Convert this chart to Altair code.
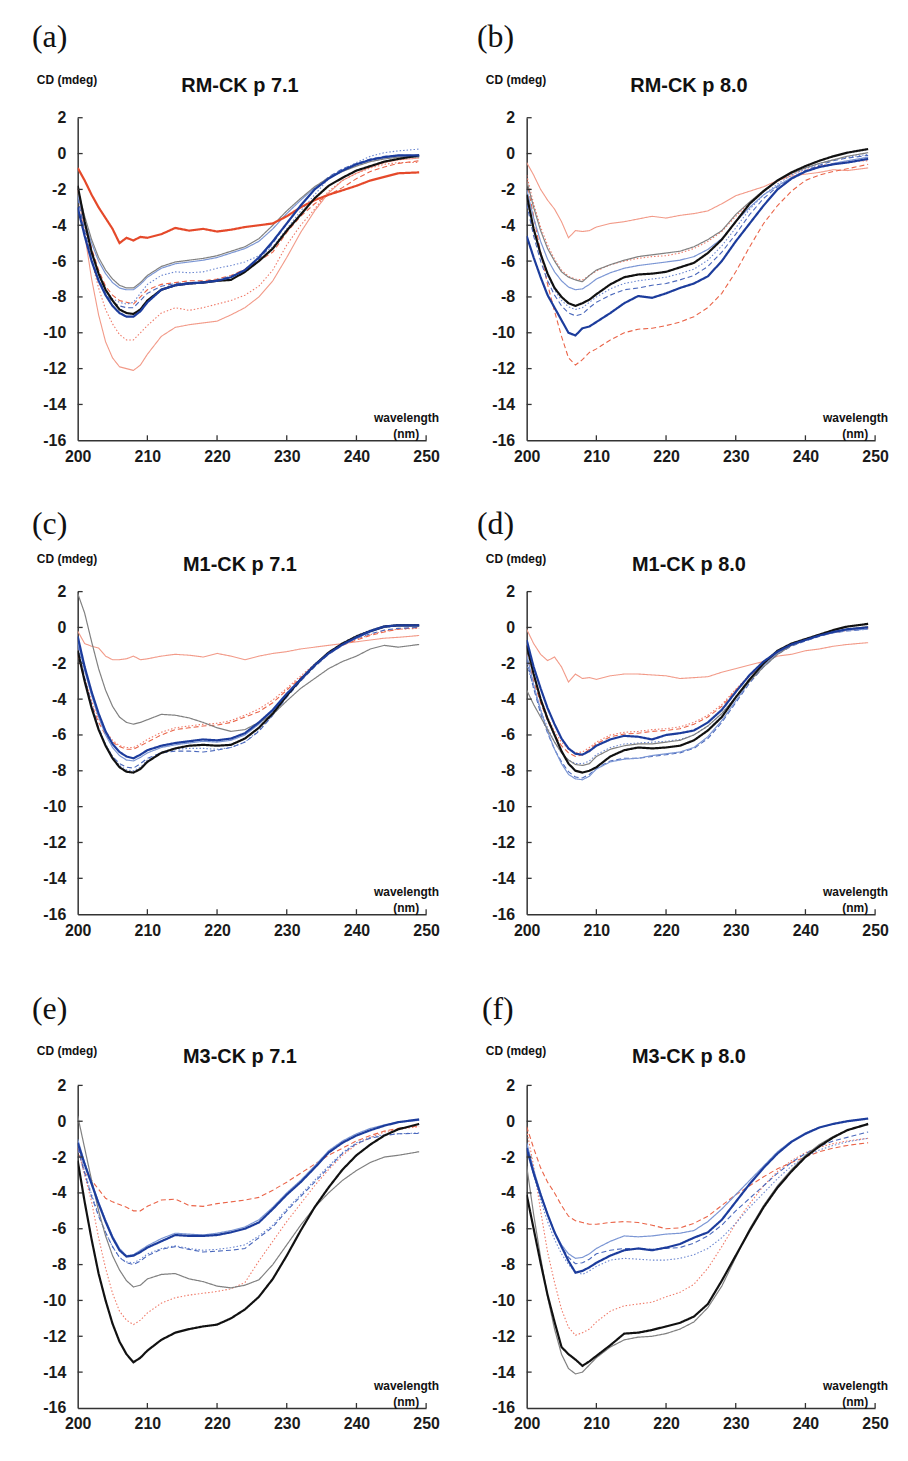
import altair as alt
import pandas as pd

# wavelength grid (nm)
W = [200, 201, 202, 203, 204, 205, 206, 207, 208, 209, 210, 212, 214, 216, 218,
     220, 222, 224, 226, 228, 230, 232, 234, 236, 238, 240, 242, 244, 246, 249]

# ---------------- (a) RM-CK pH 7.1 ----------------
A_R = [-0.8, -1.5, -2.3, -3.0, -3.6, -4.2, -5.0, -4.7, -4.85, -4.65, -4.7, -4.5, -4.15, -4.3, -4.2,
       -4.35, -4.25, -4.1, -4.0, -3.9, -3.5, -3.0, -2.6, -2.3, -2.05, -1.8, -1.5, -1.3, -1.1, -1.05]
A_S = [-2.0, -4.5, -7.0, -9.0, -10.5, -11.4, -11.9, -12.0, -12.1, -11.8, -11.2, -10.2, -9.7, -9.55, -9.45,
       -9.35, -9.0, -8.6, -8.0, -7.1, -5.8, -4.4, -3.2, -2.2, -1.5, -1.1, -0.75, -0.5, -0.35, -0.25]
A_RDt = [-2.0, -4.0, -6.0, -7.5, -8.7, -9.5, -10.1, -10.4, -10.4, -10.0, -9.6, -8.9, -8.6, -8.75, -8.6,
         -8.4, -8.2, -7.9, -7.4, -6.5, -5.1, -4.0, -3.1, -2.1, -1.5, -1.1, -0.8, -0.6, -0.5, -0.5]
A_RD = [-2.0, -3.8, -5.3, -6.5, -7.4, -7.9, -8.2, -8.3, -8.4, -8.0, -7.6, -7.3, -7.2, -7.1, -7.1,
        -7.0, -6.8, -6.45, -6.0, -5.5, -4.4, -3.5, -2.8, -2.3, -1.9, -1.4, -1.0, -0.75, -0.55, -0.4]
A_G = [-2.0, -3.5, -4.8, -5.8, -6.5, -7.0, -7.35, -7.5, -7.5, -7.2, -6.8, -6.3, -6.05, -5.95, -5.85,
       -5.7, -5.45, -5.2, -4.75, -4.0, -3.2, -2.5, -1.85, -1.35, -1.0, -0.7, -0.45, -0.3, -0.2, -0.2]
A_LB = [-2.3, -3.8, -5.0, -6.0, -6.7, -7.2, -7.5, -7.6, -7.6, -7.3, -6.9, -6.4, -6.15, -6.05, -5.95,
        -5.8, -5.55, -5.3, -4.9, -4.2, -3.35, -2.6, -1.9, -1.35, -0.95, -0.6, -0.35, -0.2, -0.15, -0.15]
A_BDt = [-2.0, -4.0, -5.6, -6.8, -7.6, -8.1, -8.3, -8.4, -8.3, -7.8, -7.3, -6.8, -6.6, -6.65, -6.6,
         -6.4, -6.25, -6.05, -5.7, -5.2, -4.2, -3.2, -2.3, -1.4, -0.9, -0.5, -0.15, 0.05, 0.15, 0.25]
A_BD = [-2.5, -4.3, -5.9, -7.0, -7.8, -8.3, -8.5, -8.6, -8.6, -8.2, -7.8, -7.4, -7.25, -7.2, -7.15,
        -7.05, -6.85, -6.5, -5.9, -5.0, -3.9, -2.9, -2.0, -1.3, -0.85, -0.55, -0.3, -0.15, -0.1, -0.1]
A_K = [-1.8, -3.8, -5.5, -6.7, -7.6, -8.2, -8.7, -8.9, -8.95, -8.7, -8.2, -7.6, -7.35, -7.25, -7.2,
       -7.1, -7.05, -6.6, -6.0, -5.3, -4.3, -3.4, -2.5, -1.8, -1.35, -0.95, -0.7, -0.45, -0.3, -0.1]
A_DB = [-3.0, -4.6, -6.0, -7.1, -7.9, -8.5, -8.9, -9.1, -9.1, -8.8, -8.3, -7.6, -7.35, -7.25, -7.2,
        -7.1, -6.9, -6.5, -5.8, -4.9, -3.9, -2.9, -2.0, -1.4, -0.95, -0.6, -0.35, -0.2, -0.1, -0.1]

# ---------------- (b) RM-CK pH 8.0 ----------------
B_S = [-0.5, -1.2, -2.0, -2.6, -3.1, -3.8, -4.7, -4.3, -4.35, -4.3, -4.1, -3.9, -3.8, -3.65, -3.5,
       -3.6, -3.45, -3.35, -3.2, -2.8, -2.35, -2.1, -1.85, -1.5, -1.25, -1.15, -1.05, -0.9, -0.95, -0.8]
B_RD = [-1.5, -3.5, -5.5, -7.3, -8.8, -10.2, -11.4, -11.8, -11.5, -11.1, -10.9, -10.4, -10.0, -9.8, -9.75,
        -9.6, -9.4, -9.1, -8.6, -7.8, -6.6, -5.2, -3.9, -2.9, -2.1, -1.5, -1.2, -1.0, -0.85, -0.6]
B_RDt = [-1.2, -2.8, -4.1, -5.1, -5.9, -6.5, -6.85, -7.0, -7.05, -6.8, -6.55, -6.2, -6.0, -5.85, -5.75,
         -5.7, -5.55, -5.3, -4.9, -4.35, -3.5, -2.75, -2.1, -1.55, -1.15, -0.9, -0.7, -0.55, -0.45, -0.4]
B_G = [-1.5, -3.0, -4.3, -5.3, -6.0, -6.6, -6.9, -7.05, -7.15, -6.8, -6.5, -6.2, -5.95, -5.75, -5.65,
       -5.55, -5.45, -5.2, -4.8, -4.3, -3.4, -2.7, -2.05, -1.5, -1.1, -0.8, -0.55, -0.35, -0.15, 0.05]
B_LB = [-2.0, -3.6, -4.9, -5.9, -6.6, -7.1, -7.45, -7.6, -7.55, -7.3, -7.0, -6.65, -6.4, -6.25, -6.15,
        -6.05, -5.95, -5.75, -5.35, -4.75, -3.8, -3.0, -2.3, -1.8, -1.35, -1.0, -0.75, -0.55, -0.4, -0.2]
B_K = [-2.3, -4.2, -5.6, -6.7, -7.5, -8.0, -8.35, -8.5, -8.35, -8.15, -7.85, -7.3, -6.9, -6.75, -6.7,
       -6.6, -6.35, -6.1, -5.55, -4.8, -3.8, -2.8, -2.1, -1.5, -1.05, -0.7, -0.4, -0.15, 0.05, 0.25]
B_BDt = [-2.5, -4.3, -5.7, -6.8, -7.6, -8.2, -8.55, -8.7, -8.6, -8.3, -8.0, -7.55, -7.25, -7.1, -7.0,
         -6.9, -6.7, -6.45, -5.95, -5.15, -4.15, -3.1, -2.3, -1.7, -1.2, -0.85, -0.55, -0.35, -0.2, -0.05]
B_BD = [-2.8, -4.6, -6.0, -7.1, -7.9, -8.5, -8.9, -9.05, -8.95, -8.6, -8.3, -7.9, -7.6, -7.5, -7.35,
        -7.25, -7.05, -6.8, -6.3, -5.5, -4.5, -3.4, -2.5, -1.85, -1.35, -0.95, -0.65, -0.4, -0.25, -0.1]
B_DB = [-4.6, -5.8, -6.9, -7.9, -8.6, -9.3, -10.0, -10.15, -9.75, -9.65, -9.4, -8.9, -8.35, -7.95, -8.05,
        -7.8, -7.5, -7.25, -6.85, -6.0, -4.9, -3.9, -2.9, -2.0, -1.4, -1.0, -0.75, -0.6, -0.5, -0.3]

# ---------------- (c) M1-CK pH 7.1 ----------------
C_S = [-0.2, -0.9, -1.05, -1.15, -1.6, -1.8, -1.8, -1.75, -1.6, -1.8, -1.75, -1.6, -1.5, -1.55, -1.65,
       -1.45, -1.6, -1.8, -1.6, -1.45, -1.35, -1.2, -1.1, -1.0, -0.9, -0.8, -0.7, -0.6, -0.55, -0.45]
C_G = [1.9, 0.8, -0.8, -2.3, -3.5, -4.4, -5.0, -5.3, -5.4, -5.3, -5.15, -4.85, -4.9, -5.05, -5.3,
       -5.6, -5.8, -5.7, -5.3, -4.85, -4.1, -3.4, -2.85, -2.3, -1.9, -1.6, -1.2, -1.0, -1.1, -0.95]
C_RD = [-1.5, -3.0, -4.3, -5.3, -6.0, -6.4, -6.65, -6.8, -6.8, -6.6, -6.4, -6.0, -5.7, -5.6, -5.5,
        -5.45, -5.3, -5.0, -4.7, -4.2, -3.5, -2.8, -2.15, -1.5, -1.0, -0.7, -0.45, -0.25, -0.1, 0.0]
C_RDt = [-1.2, -2.8, -4.1, -5.1, -5.8, -6.3, -6.6, -6.7, -6.7, -6.5, -6.25, -5.85, -5.6, -5.5, -5.4,
         -5.35, -5.2, -4.9, -4.55, -4.05, -3.4, -2.7, -2.05, -1.45, -0.95, -0.65, -0.4, -0.2, -0.1, -0.05]
C_LB = [-0.8, -2.4, -3.8, -5.0, -6.0, -6.7, -7.15, -7.4, -7.45, -7.25, -7.0, -6.7, -6.55, -6.45, -6.35,
        -6.4, -6.3, -6.0, -5.4, -4.65, -3.75, -2.95, -2.15, -1.5, -1.0, -0.6, -0.25, 0.0, 0.1, 0.1]
C_BD = [-1.0, -2.8, -4.3, -5.6, -6.6, -7.2, -7.6, -7.8, -7.85, -7.6, -7.3, -7.0, -6.9, -6.9, -6.95,
        -6.85, -6.7, -6.4, -5.8, -4.9, -3.9, -3.0, -2.2, -1.5, -0.95, -0.6, -0.35, -0.15, -0.05, 0.0]
C_BDt = [-1.2, -2.9, -4.4, -5.6, -6.5, -7.2, -7.7, -7.95, -8.0, -7.8, -7.4, -6.95, -6.8, -6.75, -6.75,
         -6.8, -6.7, -6.4, -5.75, -4.9, -3.85, -2.95, -2.1, -1.4, -0.85, -0.45, -0.15, 0.1, 0.15, 0.15]
C_DB = [-0.5, -2.2, -3.6, -4.8, -5.8, -6.5, -6.95, -7.2, -7.3, -7.1, -6.85, -6.6, -6.45, -6.35, -6.25,
        -6.3, -6.2, -5.9, -5.3, -4.6, -3.7, -2.9, -2.1, -1.45, -0.95, -0.55, -0.2, 0.05, 0.12, 0.12]
C_K = [-1.3, -3.0, -4.5, -5.7, -6.6, -7.3, -7.8, -8.05, -8.1, -7.9, -7.5, -7.0, -6.75, -6.6, -6.55,
       -6.6, -6.55, -6.2, -5.6, -4.8, -3.8, -2.9, -2.1, -1.4, -0.9, -0.5, -0.2, 0.05, 0.12, 0.12]

# ---------------- (d) M1-CK pH 8.0 ----------------
D_S = [-0.1, -0.9, -1.5, -1.85, -1.65, -2.2, -3.05, -2.6, -2.85, -2.8, -2.9, -2.7, -2.6, -2.6, -2.65,
       -2.7, -2.85, -2.8, -2.75, -2.5, -2.3, -2.1, -1.9, -1.6, -1.5, -1.3, -1.2, -1.05, -0.95, -0.85]
D_RD = [-1.5, -3.0, -4.2, -5.2, -6.0, -6.6, -7.0, -7.2, -7.1, -6.8, -6.5, -6.1, -5.95, -5.9, -5.8,
        -5.75, -5.65, -5.4, -5.0, -4.4, -3.5, -2.7, -2.0, -1.45, -1.0, -0.7, -0.45, -0.3, -0.15, -0.05]
D_RDt = [-1.0, -2.6, -3.9, -5.0, -5.8, -6.4, -6.8, -7.0, -6.95, -6.7, -6.4, -6.0, -5.85, -5.8, -5.7,
         -5.65, -5.55, -5.3, -4.9, -4.3, -3.45, -2.65, -1.95, -1.4, -0.95, -0.65, -0.4, -0.25, -0.1, 0.0]
D_G = [-3.5, -4.3, -5.0, -5.7, -6.4, -7.0, -7.4, -7.65, -7.7, -7.6, -7.2, -6.8, -6.6, -6.5, -6.5,
       -6.4, -6.3, -6.0, -5.5, -4.8, -3.9, -3.0, -2.2, -1.5, -1.0, -0.7, -0.45, -0.25, -0.1, 0.05]
D_LB = [-1.5, -3.2, -4.6, -5.8, -6.8, -7.6, -8.2, -8.45, -8.5, -8.3, -7.9, -7.5, -7.35, -7.3, -7.15,
        -7.05, -6.95, -6.7, -6.1, -5.2, -4.1, -3.0, -2.1, -1.45, -1.0, -0.7, -0.45, -0.3, -0.15, -0.1]
D_BD = [-1.8, -3.4, -4.8, -5.9, -6.8, -7.5, -8.05, -8.35, -8.4, -8.2, -7.85, -7.45, -7.3, -7.3, -7.2,
        -7.1, -7.0, -6.75, -6.2, -5.3, -4.2, -3.1, -2.2, -1.5, -1.05, -0.75, -0.5, -0.3, -0.2, -0.1]
D_BDt = [-2.0, -3.4, -4.6, -5.6, -6.4, -7.0, -7.4, -7.6, -7.6, -7.45, -7.1, -6.7, -6.5, -6.45, -6.4,
         -6.35, -6.25, -6.0, -5.5, -4.8, -3.85, -2.95, -2.1, -1.45, -1.0, -0.7, -0.45, -0.25, -0.1, 0.0]
D_DB = [-0.7, -2.2, -3.4, -4.5, -5.4, -6.2, -6.75, -7.05, -7.1, -6.9, -6.6, -6.25, -6.05, -6.1, -6.25,
        -6.0, -5.9, -5.75, -5.3, -4.6, -3.6, -2.65, -1.9, -1.35, -0.95, -0.7, -0.45, -0.25, -0.1, 0.0]
D_K = [-1.0, -2.6, -4.0, -5.1, -6.0, -6.9, -7.6, -8.0, -8.1, -8.0, -7.8, -7.2, -6.85, -6.7, -6.75,
       -6.7, -6.6, -6.3, -5.75, -5.0, -3.9, -2.9, -2.0, -1.3, -0.9, -0.65, -0.4, -0.15, 0.05, 0.2]

# ---------------- (e) M3-CK pH 7.1 ----------------
E_RD = [-1.5, -2.9, -3.3, -3.8, -4.3, -4.5, -4.65, -4.8, -5.0, -5.0, -4.75, -4.4, -4.35, -4.7, -4.75,
        -4.6, -4.5, -4.4, -4.25, -3.85, -3.4, -2.9, -2.4, -1.9, -1.5, -1.1, -0.8, -0.55, -0.4, -0.25]
E_RDt = [-1.5, -3.0, -4.5, -6.5, -8.2, -9.6, -10.6, -11.1, -11.35, -11.1, -10.7, -10.15, -9.85, -9.7, -9.6,
         -9.5, -9.35, -9.0, -7.8, -6.7, -5.6, -4.6, -3.6, -2.7, -1.9, -1.3, -0.9, -0.6, -0.45, -0.3]
E_G = [0.3, -1.5, -3.3, -5.0, -6.4, -7.5, -8.3, -8.9, -9.25, -9.15, -8.8, -8.55, -8.5, -8.8, -8.95,
       -9.2, -9.3, -9.15, -8.85, -8.0, -6.9, -5.8, -4.8, -4.0, -3.3, -2.75, -2.3, -2.0, -1.9, -1.7]
E_LB = [-1.0, -2.3, -3.4, -4.5, -5.5, -6.4, -7.1, -7.5, -7.45, -7.2, -6.95, -6.55, -6.25, -6.3, -6.35,
        -6.25, -6.1, -5.9, -5.5, -4.8, -4.0, -3.3, -2.5, -1.65, -1.1, -0.7, -0.4, -0.2, -0.05, 0.05]
E_BD = [-1.5, -2.9, -4.2, -5.3, -6.2, -7.0, -7.6, -7.9, -8.0, -7.8, -7.5, -7.15, -7.0, -7.15, -7.3,
        -7.25, -7.2, -7.1, -6.5, -5.9, -5.0, -4.2, -3.4, -2.6, -1.8, -1.25, -0.95, -0.8, -0.7, -0.68]
E_BDt = [-1.3, -2.8, -4.1, -5.2, -6.2, -7.0, -7.6, -7.85, -7.9, -7.7, -7.4, -7.1, -6.95, -7.1, -7.2,
         -7.15, -7.05, -6.9, -6.4, -5.8, -4.9, -4.1, -3.3, -2.5, -1.75, -1.2, -0.9, -0.75, -0.7, -0.65]
E_DB = [-1.2, -2.4, -3.5, -4.6, -5.6, -6.5, -7.2, -7.55, -7.5, -7.3, -7.05, -6.7, -6.35, -6.4, -6.4,
        -6.35, -6.2, -6.0, -5.65, -4.9, -4.1, -3.4, -2.6, -1.75, -1.2, -0.8, -0.5, -0.25, -0.05, 0.1]
E_K = [-2.2, -4.5, -6.6, -8.5, -10.0, -11.3, -12.3, -13.0, -13.45, -13.2, -12.8, -12.2, -11.8, -11.6, -11.45,
       -11.35, -11.0, -10.5, -9.8, -8.8, -7.5, -6.1, -4.8, -3.7, -2.7, -1.9, -1.3, -0.8, -0.45, -0.15]

# ---------------- (f) M3-CK pH 8.0 ----------------
F_RD = [-0.3, -1.5, -2.6, -3.4, -4.0, -4.7, -5.3, -5.55, -5.65, -5.75, -5.75, -5.65, -5.6, -5.65, -5.8,
        -6.0, -5.95, -5.7, -5.3, -4.7, -4.1, -3.6, -3.1, -2.65, -2.3, -2.0, -1.7, -1.5, -1.35, -1.2]
F_RDt = [-0.5, -2.5, -5.0, -7.3, -9.0, -10.5, -11.5, -11.95, -11.8, -11.6, -11.2, -10.6, -10.3, -10.2, -10.1,
         -9.8, -9.55, -9.1, -8.2, -7.0, -5.7, -4.6, -3.6, -2.8, -2.2, -1.75, -1.45, -1.25, -1.1, -0.95]
F_LB = [-1.2, -2.7, -4.0, -5.2, -6.2, -6.9, -7.4, -7.65, -7.6, -7.4, -7.1, -6.7, -6.4, -6.45, -6.4,
        -6.3, -6.25, -6.1, -5.6, -4.9, -4.1, -3.3, -2.5, -1.7, -1.1, -0.65, -0.35, -0.15, 0.0, 0.15]
F_BD = [-1.3, -2.8, -4.1, -5.2, -6.2, -7.0, -7.6, -7.95, -7.9, -7.7, -7.4, -7.2, -7.1, -7.1, -7.15,
        -7.1, -7.05, -6.8, -6.4, -5.8, -5.0, -4.3, -3.6, -2.9, -2.3, -1.8, -1.4, -1.1, -0.9, -0.6]
F_BDt = [-1.5, -3.0, -4.4, -5.6, -6.6, -7.4, -8.0, -8.4, -8.55, -8.35, -8.1, -7.75, -7.65, -7.7, -7.75,
         -7.75, -7.65, -7.45, -7.1, -6.5, -5.7, -4.8, -4.0, -3.2, -2.5, -2.0, -1.6, -1.35, -1.15, -0.95]
F_DB = [-1.5, -2.9, -4.1, -5.2, -6.2, -7.0, -7.8, -8.45, -8.35, -8.15, -7.9, -7.5, -7.2, -7.1, -7.2,
        -7.05, -6.85, -6.5, -6.2, -5.5, -4.5, -3.5, -2.6, -1.8, -1.15, -0.7, -0.35, -0.15, 0.0, 0.15]
F_G = [-2.5, -5.2, -7.6, -9.8, -11.6, -13.0, -13.8, -14.1, -14.0, -13.6, -13.2, -12.6, -12.2, -12.05, -12.0,
       -11.85, -11.6, -11.2, -10.4, -9.2, -7.6, -6.0, -4.7, -3.6, -2.7, -1.9, -1.3, -0.85, -0.5, -0.2]
F_K = [-4.1, -6.0, -7.9, -9.7, -11.2, -12.6, -13.0, -13.3, -13.65, -13.4, -13.1, -12.5, -11.85, -11.8, -11.65,
       -11.45, -11.25, -10.9, -10.2, -8.9, -7.5, -6.1, -4.8, -3.7, -2.8, -2.0, -1.4, -0.9, -0.5, -0.15]

# panel letters, titles
LETTERS = ["(a)", "(b)", "(c)", "(d)", "(e)", "(f)"]
TITLES = ["RM-CK p 7.1", "RM-CK p 8.0", "M1-CK p 7.1", "M1-CK p 8.0", "M3-CK p 7.1", "M3-CK p 8.0"]
SERIES = [
    {"S": A_S, "RDt": A_RDt, "RD": A_RD, "BDt": A_BDt, "BD": A_BD, "LB": A_LB, "G": A_G, "R": A_R, "K": A_K, "DB": A_DB},
    {"S": B_S, "RDt": B_RDt, "RD": B_RD, "BDt": B_BDt, "BD": B_BD, "LB": B_LB, "G": B_G, "K": B_K, "DB": B_DB},
    {"S": C_S, "RDt": C_RDt, "RD": C_RD, "BDt": C_BDt, "BD": C_BD, "LB": C_LB, "G": C_G, "K": C_K, "DB": C_DB},
    {"S": D_S, "RDt": D_RDt, "RD": D_RD, "BDt": D_BDt, "BD": D_BD, "LB": D_LB, "G": D_G, "K": D_K, "DB": D_DB},
    {"RDt": E_RDt, "RD": E_RD, "BDt": E_BDt, "BD": E_BD, "LB": E_LB, "G": E_G, "K": E_K, "DB": E_DB},
    {"RDt": F_RDt, "RD": F_RD, "BDt": F_BDt, "BD": F_BD, "LB": F_LB, "G": F_G, "K": F_K, "DB": F_DB},
]
X_TICKS = [200, 210, 220, 230, 240, 250]
Y_TICKS = [-16, -14, -12, -10, -8, -6, -4, -2, 0, 2]

# styles
STYLE = {
    "S":   ("#f29a88", 1.1, [1, 0]),
    "RDt": ("#f07a68", 1.1, [1.5, 2]),
    "RD":  ("#ea6448", 1.1, [5, 3]),
    "BDt": ("#6a86d0", 1.1, [1.5, 2]),
    "BD":  ("#4a68bc", 1.1, [5, 3]),
    "LB":  ("#7b96d4", 1.2, [1, 0]),
    "G":   ("#808080", 1.2, [1, 0]),
    "R":   ("#e5492a", 2.2, [1, 0]),
    "K":   ("#111111", 2.2, [1, 0]),
    "DB":  ("#1c3c9c", 2.2, [1, 0]),
}
ORDER = ["S", "RDt", "RD", "BDt", "BD", "LB", "G", "R", "K", "DB"]

PW, PH = 350, 324
FONT = "Liberation Sans"
AX = "#333333"
MINUS = "\u2212"

# per-panel text offsets (relative to plot top-left)
ROW_OFF = [
    {"lab": -81, "cd": -38, "tt": -32},
    {"lab": -68, "cd": -33, "tt": -27},
    {"lab": -77, "cd": -35, "tt": -28},
]
LAB_X = [-46, -50, -46, -50, -46, -45]


def make_panel(i):
    off = ROW_OFF[i // 2]
    series = SERIES[i]
    rows = []
    for key, vals in series.items():
        for w, v in zip(W, vals):
            rows.append({"w": w, "v": v, "s": key})
    df = pd.DataFrame(rows)

    xs = alt.Scale(domain=[200, 250], nice=False, zero=False)
    ys = alt.Scale(domain=[-16, 2], nice=False, zero=False)
    xa = alt.Axis(values=X_TICKS, title=None, grid=False, tickSize=0, labelPadding=8,
                  labelFontSize=16, labelFont=FONT, labelFontWeight="bold", labelColor="#1a1a1a",
                  domainColor=AX, domainWidth=1.5, labelFlush=False)
    ya = alt.Axis(values=Y_TICKS, title=None, grid=False, tickSize=0, labelPadding=12,
                  labelFontSize=16, labelFont=FONT, labelFontWeight="bold", labelColor="#1a1a1a",
                  domainColor=AX, domainWidth=1.5,
                  labelExpr="replace(datum.label, '" + MINUS + "', '-')")

    layers = []
    for key in ORDER:
        if key not in series:
            continue
        col, sw, dash = STYLE[key]
        layers.append(
            alt.Chart(df).transform_filter(alt.datum.s == key)
            .mark_line(color=col, strokeWidth=sw, strokeDash=dash, clip=True)
            .encode(x=alt.X("w:Q", scale=xs, axis=xa), y=alt.Y("v:Q", scale=ys, axis=ya))
        )
    # inward ticks
    xt = alt.Chart(pd.DataFrame({"w": X_TICKS[1:]})).mark_rule(color=AX, strokeWidth=1.3).encode(
        x=alt.X("w:Q", scale=xs, axis=xa), y=alt.value(PH), y2=alt.value(PH - 5))
    yt = alt.Chart(pd.DataFrame({"v": Y_TICKS[1:]})).mark_rule(color=AX, strokeWidth=1.3).encode(
        y=alt.Y("v:Q", scale=ys, axis=ya), x=alt.value(0), x2=alt.value(5))
    layers += [xt, yt]

    # invisible frame that fixes each panel's layout bounds
    frame = alt.Chart(pd.DataFrame({"k": [0]})).mark_rule(strokeOpacity=0, strokeWidth=1).encode(
        x=alt.value(-55), x2=alt.value(PW + 20), y=alt.value(-100), y2=alt.value(PH + 30))
    layers.append(frame)

    def txt(t, x, y, size, align="left", font=FONT, weight="bold"):
        return alt.Chart(pd.DataFrame({"t": [t]})).mark_text(
            font=font, fontSize=size, fontWeight=weight, align=align, baseline="middle", color="#111111"
        ).encode(text="t:N", x=alt.value(x), y=alt.value(y))

    layers += [
        txt(LETTERS[i], LAB_X[i], off["lab"], 32, align="left", font="Liberation Serif", weight="normal"),
        txt("CD (mdeg)", -41, off["cd"], 12),
        txt(TITLES[i], 163, off["tt"], 20, align="center"),
        txt("wavelength", 363, PH - 22, 12, align="right"),
        txt("(nm)", 330, PH - 6, 12, align="center"),
    ]
    return alt.layer(*layers).properties(width=PW, height=PH)


p = [make_panel(i) for i in range(6)]
row1 = alt.hconcat(p[0], p[1], spacing=26)
row2 = alt.hconcat(p[2], p[3], spacing=26)
row3 = alt.hconcat(p[4], p[5], spacing=26)
top = alt.vconcat(row1, row2, spacing=22)
chart = alt.vconcat(top, row3, spacing=42).properties(
    padding={"left": 15, "top": 7, "right": 5, "bottom": 5},
    background="white",
).configure_view(stroke=None)

chart.save("out.html", embed_options={"renderer": "svg", "actions": False})
